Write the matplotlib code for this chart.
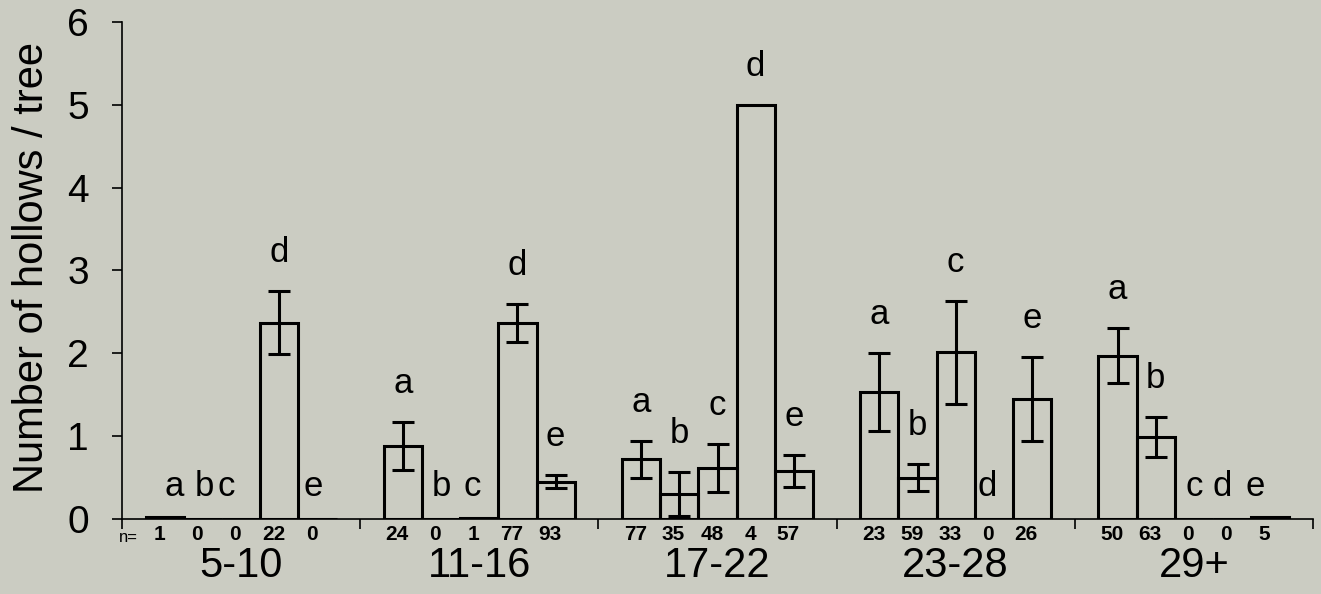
import matplotlib
matplotlib.use('Agg')
import matplotlib.pyplot as plt
from matplotlib.transforms import blended_transform_factory

# size classes and within-class treatment letters
groups = ['5-10', '11-16', '17-22', '23-28', '29+']
letters = ['a', 'b', 'c', 'd', 'e']

# mean number of hollows per tree (one row per size class)
means = [
    [0.02, 0.0, 0.0, 2.37, 0.0],
    [0.88, 0.0, 0.01, 2.37, 0.45],
    [0.72, 0.30, 0.62, 5.0, 0.58],
    [1.53, 0.50, 2.01, 0.0, 1.45],
    [1.97, 0.99, 0.0, 0.0, 0.02],
]
# standard errors
errs = [
    [0.0, 0.0, 0.0, 0.38, 0.0],
    [0.29, 0.0, 0.0, 0.23, 0.08],
    [0.22, 0.27, 0.29, 0.0, 0.19],
    [0.47, 0.16, 0.62, 0.0, 0.51],
    [0.33, 0.24, 0.0, 0.0, 0.0],
]
# sample sizes
n_trees = [
    [1, 0, 0, 22, 0],
    [24, 0, 1, 77, 93],
    [77, 35, 48, 4, 57],
    [23, 59, 33, 0, 26],
    [50, 63, 0, 0, 5],
]

# layout
bg = '#cbccc2'
G = 6.24          # width of one size class in bar units
first = 0.62      # gap before first bar of a class
letter_nudge = {(0, 0): 0.24, (0, 1): 0.05, (0, 2): -0.4, (0, 4): -0.1,
                (1, 2): -0.2, (3, 3): -0.18, (4, 3): -0.26, (4, 4): -0.4}

reg = ['Liberation Sans', 'DejaVu Sans']
narrow = ['Liberation Sans Narrow', 'Liberation Sans', 'DejaVu Sans']

fig = plt.figure(figsize=(13.21, 5.94), dpi=100, facecolor=bg)
ax = fig.add_axes([0.0924, 0.1263, 0.9015, 0.8367])
ax.set_facecolor(bg)

for g, name in enumerate(groups):
    xs = [g * G + first + 0.5 + i for i in range(5)]
    ax.bar(xs, means[g], width=1.0, facecolor='none', edgecolor='black',
           linewidth=2.2, zorder=3)
    for i, x in enumerate(xs):
        m, e = means[g][i], errs[g][i]
        if e > 0:
            ax.errorbar(x, m, yerr=e, fmt='none', ecolor='black',
                        elinewidth=2.2, capsize=8, capthick=2.2, zorder=4)
        if m > 0.05:
            ly = m + e + 0.35
        else:
            ly = 0.28
        ax.text(x + letter_nudge.get((g, i), 0), ly, letters[i],
                ha='center', va='baseline', fontsize=25, family=reg,
                clip_on=False)
    trans = blended_transform_factory(ax.transData, ax.transAxes)
    for i, x in enumerate(xs):
        ax.text(x - 0.15, -0.031, str(n_trees[g][i]), transform=trans,
                ha='center', va='center', fontsize=15, family=narrow,
                fontweight='bold')
    ax.text(g * G + G / 2, -0.094, name, transform=trans, ha='center',
            va='center', fontsize=30, family=narrow)

ax.text(128 / 1321, (594 - 537) / 594, 'n=', transform=fig.transFigure,
        ha='center', va='center', fontsize=12, family=narrow)

ax.set_xlim(0, 5 * G)
ax.set_ylim(0, 6)
ax.set_xticks([g * G for g in range(6)])
ax.set_xticklabels([])
ax.set_yticks(range(7))
ax.tick_params(axis='y', direction='out', length=7, width=1.2, pad=17,
               labelsize=28)
ax.tick_params(axis='x', direction='out', length=7, width=1.2)
for lab in ax.get_yticklabels():
    lab.set_family(reg)
for s in ['top', 'right']:
    ax.spines[s].set_visible(False)
for s in ['left', 'bottom']:
    ax.spines[s].set_linewidth(1.2)

fig.text(32 / 1321, (594 - 268) / 594, 'Number of hollows / tree',
         rotation=90, ha='center', va='center', fontsize=30, family=reg)

fig.savefig('out.png', dpi=100, facecolor=bg)
